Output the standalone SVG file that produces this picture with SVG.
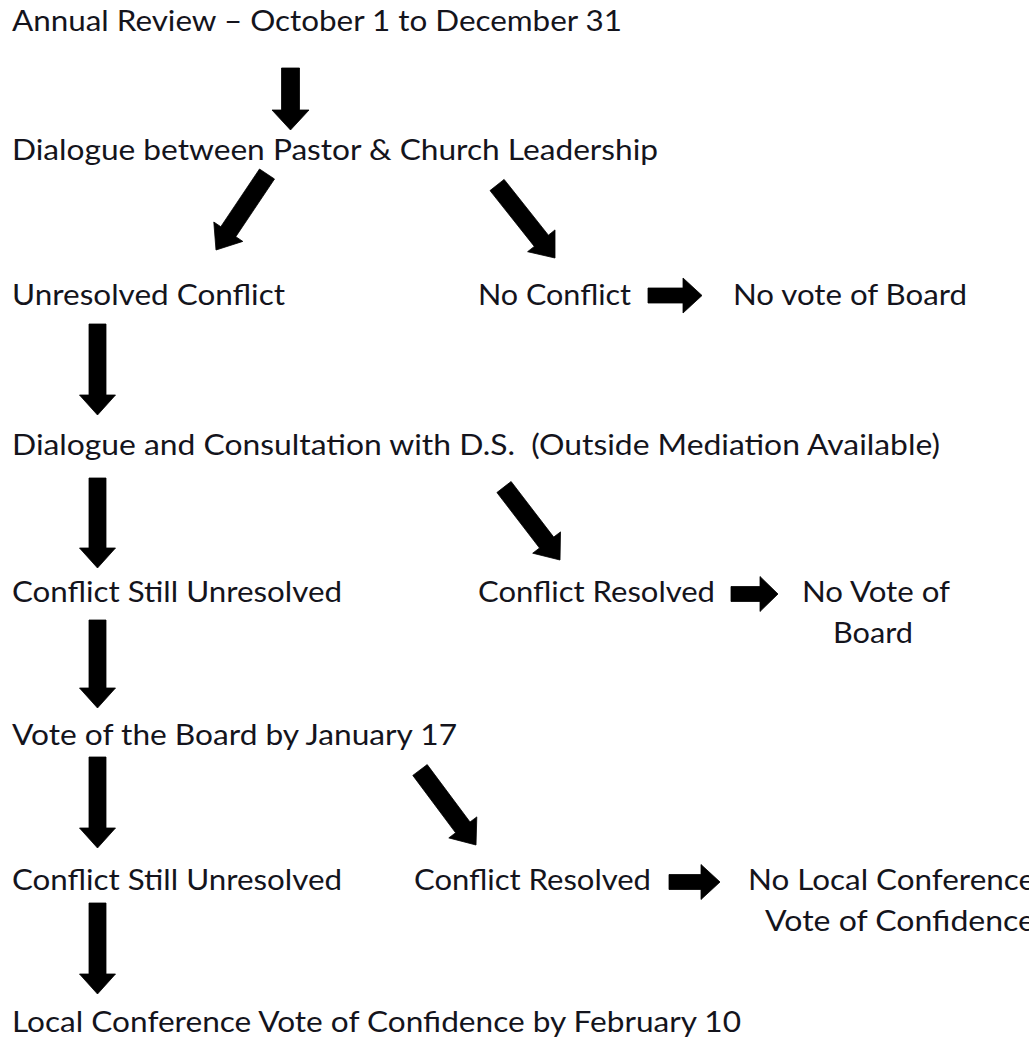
<svg xmlns="http://www.w3.org/2000/svg" width="1029" height="1040" viewBox="0 0 1029 1040">
<style>
text { font-family: "Lato", "Liberation Sans", sans-serif; font-size: 29px; fill: #14141c; }
.arr { fill: #000; stroke: #000; stroke-width: 0.8; stroke-linejoin: miter; }
</style>
<rect width="1029" height="1040" fill="#fff"/>
<g id="connectors">
  <polygon class="arr" points="281.5,68 299.5,68 299.5,110 309,110 290.5,130 272,110 281.5,110"/>
  <polygon class="arr" points="259.5,169 220.8,226.7 213.8,222 216,250 242.8,241.4 235.8,236.7 274.5,179"/>
  <polygon class="arr" points="490,190.6 534.3,246.4 527.6,251.7 555,258 555,229.9 548.4,235.2 504.1,179.4"/>
  <polygon class="arr" points="648,288 683,288 683,278 702,295.5 683,313 683,303 648,303"/>
  <polygon class="arr" points="89,324 106,324 106,395 115.5,395 97.5,415 79.5,395 89,395"/>
  <polygon class="arr" points="89,478 106,478 106,548 115.5,548 97.5,568 79.5,548 89,548"/>
  <polygon class="arr" points="496.9,492.5 539.5,548 532.7,553.2 560,560 560.5,531.9 553.7,537.1 511.1,481.5"/>
  <polygon class="arr" points="731,586.5 760,586.5 760,576.5 778,594 760,611.5 760,601.5 731,601.5"/>
  <polygon class="arr" points="89,620 106,620 106,688 115.5,688 97.5,708 79.5,688 89,688"/>
  <polygon class="arr" points="89,757 106,757 106,828 115.5,828 97.5,848 79.5,828 89,828"/>
  <polygon class="arr" points="412.8,775.4 455.6,832.8 448.8,837.9 476,845 476.8,816.9 470,822 427.2,764.6"/>
  <polygon class="arr" points="669,874.5 701,874.5 701,864.5 720,882 701,899.5 701,889.5 669,889.5"/>
  <polygon class="arr" points="89,903 106,903 106,974 115.5,974 97.5,994 79.5,974 89,974"/>
</g>
<g id="n-annual"><text x="12" y="31" textLength="610" lengthAdjust="spacingAndGlyphs">Annual Review – October 1 to December 31</text></g>
<g id="n-dialogue"><text x="12" y="160" textLength="646" lengthAdjust="spacingAndGlyphs">Dialogue between Pastor &amp; Church Leadership</text></g>
<g id="n-unresolved"><text x="12" y="305" textLength="273" lengthAdjust="spacingAndGlyphs">Unresolved Conflict</text></g>
<g id="n-noconflict"><text x="478" y="305" textLength="153" lengthAdjust="spacingAndGlyphs">No Conflict</text></g>
<g id="n-novote1"><text x="733" y="305" textLength="234" lengthAdjust="spacingAndGlyphs">No vote of Board</text></g>
<g id="n-consult"><text x="12" y="455" textLength="928" lengthAdjust="spacingAndGlyphs" xml:space="preserve">Dialogue and Consultation with D.S.  (Outside Mediation Available)</text></g>
<g id="n-still1"><text x="12" y="602" textLength="330" lengthAdjust="spacingAndGlyphs">Conflict Still Unresolved</text></g>
<g id="n-resolved1"><text x="478" y="602" textLength="237" lengthAdjust="spacingAndGlyphs">Conflict Resolved</text></g>
<g id="n-novote2"><text x="802" y="602" textLength="148" lengthAdjust="spacingAndGlyphs">No Vote of</text><text x="833" y="643" textLength="80" lengthAdjust="spacingAndGlyphs">Board</text></g>
<g id="n-vote"><text x="12" y="745" textLength="445" lengthAdjust="spacingAndGlyphs">Vote of the Board by January 17</text></g>
<g id="n-still2"><text x="12" y="890" textLength="330" lengthAdjust="spacingAndGlyphs">Conflict Still Unresolved</text></g>
<g id="n-resolved2"><text x="414" y="890" textLength="237" lengthAdjust="spacingAndGlyphs">Conflict Resolved</text></g>
<g id="n-nolocal"><text x="748" y="890" textLength="287" lengthAdjust="spacingAndGlyphs">No Local Conference</text><text x="765" y="931" textLength="270" lengthAdjust="spacingAndGlyphs">Vote of Confidence</text></g>
<g id="n-local"><text x="12" y="1032" textLength="729" lengthAdjust="spacingAndGlyphs">Local Conference Vote of Confidence by February 10</text></g>
</svg>
